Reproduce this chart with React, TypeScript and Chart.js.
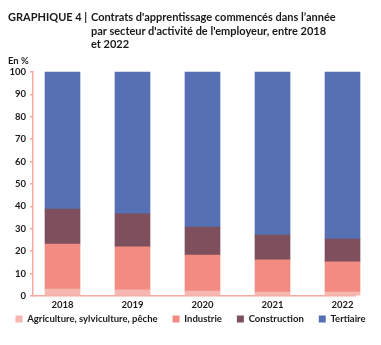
import React, { useEffect, useRef } from "react";
import { Chart, registerables } from "chart.js";

Chart.register(...registerables);

const years = ["2018", "2019", "2020", "2021", "2022"];
const agriculture = [3.1, 2.7, 2.2, 1.8, 1.8];
const industrie = [20.1, 19.2, 16.1, 14.3, 13.4];
const construction = [15.6, 14.8, 12.5, 11.1, 10.2];
const tertiaire = [61.2, 63.3, 69.2, 72.8, 74.6];
const yTicks = [0, 10, 20, 30, 40, 50, 60, 70, 80, 90, 100];

const FONT = "Lato, 'Open Sans', sans-serif";
const TEXT = "#1a1a1a";
const PINK = "#f4a9a3";

const legendLift = {
  id: "legendLift",
  afterLayout(chart: any) {
    const lg = chart.legend;
    if (!lg) return;
    const h = lg.bottom - lg.top;
    lg.top = chart.chartArea.bottom + 3.25;
    lg.bottom = lg.top + h;
  },
};

export default function App() {
  const ref = useRef<HTMLCanvasElement | null>(null);

  useEffect(() => {
    if (!ref.current) return;
    const toPts = (arr: number[]) => arr.map((v, i) => ({ x: i, y: v }));
    const ds = (label: string, arr: number[], color: string) => ({
      label,
      data: toPts(arr),
      backgroundColor: color,
      borderWidth: 0,
      barThickness: 35,
      clip: false as any,
    });
    const chart = new Chart(ref.current, {
      type: "bar",
      data: {
        datasets: [
          ds("Agriculture, sylviculture, pêche", agriculture, "#f7b7b1"),
          ds("Industrie", industrie, "#f28b82"),
          ds("Construction", construction, "#7e4f5d"),
          ds("Tertiaire", tertiaire, "#5670b3"),
        ] as any,
      },
      plugins: [legendLift],
      options: {
        animation: false,
        responsive: false,
        maintainAspectRatio: false,
        layout: { padding: { top: 72, left: 0, right: 0, bottom: 0 } },
        plugins: {
          tooltip: { enabled: false },
          legend: {
            position: "bottom",
            labels: {
              boxWidth: 7,
              boxHeight: 7,
              padding: 15,
              color: TEXT,
              font: { family: FONT, size: 9.5, weight: "bold" },
            },
          },
        },
        scales: {
          x: {
            type: "linear",
            stacked: true,
            offset: false,
            min: -29.5 / 70,
            max: 4 + 12.5 / 70,
            grid: { display: false, drawTicks: false },
            border: { display: true, color: PINK, width: 1.5 },
            afterBuildTicks: (scale: any) => {
              scale.ticks = years.map((_, i) => ({ value: i }));
            },
            afterFit: (scale: any) => {
              scale.height = 14.5;
            },
            ticks: {
              autoSkip: false,
              maxRotation: 0,
              padding: 3,
              color: TEXT,
              font: { family: FONT, size: 9.5, weight: "bold" },
              callback: (v: any) => years[Math.round(Number(v))] ?? "",
            },
          },
          y: {
            stacked: true,
            min: 0,
            max: 100,
            afterBuildTicks: (scale: any) => {
              scale.ticks = yTicks.map((v) => ({ value: v }));
            },
            afterFit: (scale: any) => {
              scale.width = 33;
            },
            grid: {
              drawOnChartArea: false,
              drawTicks: true,
              tickLength: 3,
              color: PINK,
              lineWidth: 1.5,
            },
            border: { display: true, color: PINK, width: 1.5 },
            ticks: {
              padding: 4,
              color: TEXT,
              font: { family: FONT, size: 9.5, weight: "bold" },
            },
          },
          spacer: {
            type: "linear",
            position: "right",
            display: true,
            grid: { display: false },
            border: { display: false },
            ticks: { display: false },
            afterFit: (scale: any) => {
              scale.width = 26;
            },
          },
        },
      } as any,
    });
    return () => chart.destroy();
  }, []);

  return (
    <div
      style={{
        position: "absolute",
        left: 0,
        top: 0,
        width: 381,
        height: 345,
        background: "#fff",
        fontFamily: FONT,
        color: TEXT,
      }}
    >
      <canvas
        ref={ref}
        width={381}
        height={345}
        style={{ position: "absolute", left: 0, top: 0, width: 381, height: 345 }}
      />
      <div
        style={{
          position: "absolute",
          left: 8,
          top: 10,
          fontSize: 11,
          fontWeight: "bold",
          lineHeight: "13.5px",
          display: "flex",
          whiteSpace: "nowrap",
        }}
      >
        <div style={{ width: 83 }}>GRAPHIQUE 4 |</div>
        <div>
          Contrats d'apprentissage commencés dans l’année
          <br />
          par secteur d'activité de l'employeur, entre 2018
          <br />
          et 2022
        </div>
      </div>
      <div
        style={{
          position: "absolute",
          left: 8,
          top: 55,
          fontSize: 9.5,
          fontWeight: "bold",
          lineHeight: "12px",
        }}
      >
        En %
      </div>
    </div>
  );
}
